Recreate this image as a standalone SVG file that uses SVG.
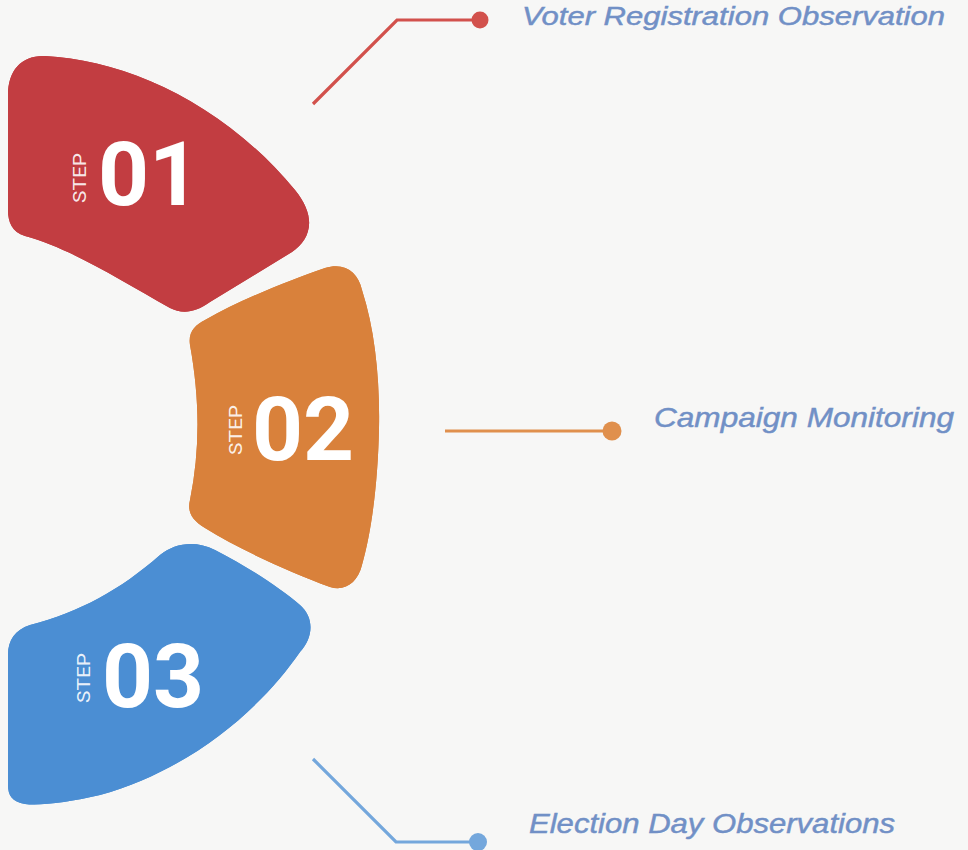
<svg xmlns="http://www.w3.org/2000/svg" xmlns:xlink="http://www.w3.org/1999/xlink" width="968" height="850" viewBox="0 0 968 850">
<defs>
<pattern id="dots" x="0" y="0" width="31" height="31" patternUnits="userSpaceOnUse">
<circle cx="15" cy="15" r="0.9" fill="#ffffff" fill-opacity="0.35"/>
</pattern>
<style>
.num{font-family:Roboto,"Liberation Sans",sans-serif;font-weight:700;font-size:89px;fill:#ffffff}
.step{font-family:Roboto,"Liberation Sans",sans-serif;font-weight:400;font-size:18px;fill:#ffffff;fill-opacity:0.9}
.lbl{font-family:"Liberation Sans",Arial,sans-serif;font-style:italic;fill:#7190C6;stroke:#7190C6;stroke-width:0.45}
.ln{fill:none;stroke-width:3.2;stroke-linejoin:miter;stroke-linecap:butt}
</style>
</defs>
<rect x="0" y="0" width="968" height="850" fill="#F7F7F6"/>

<g id="step1">
<path id="s1" d="M8,95 C8,70 22,55 45,56 C125,60 222,102 295,190 C318,218 310,240 292,252 L210,302 C195,313 182,314 170,308 C120,280 70,248 25,236 C12,232 8,222 8,210 Z" fill="#C23D41"/>
<use xlink:href="#s1" fill="url(#dots)"/>
<text class="step" transform="translate(86,203) rotate(-90)" textLength="50" lengthAdjust="spacingAndGlyphs">STEP</text>
<text class="num" x="98" y="205">01</text>
</g>

<g id="step2">
<path id="s2" d="M190,345 C188,332 195,325 205,320 C240,300 290,280 325,268 C345,262 358,272 362,290 C375,330 380,380 379,428 C378,480 372,530 362,565 C358,582 345,592 330,587 C290,572 240,550 205,528 C192,520 187,512 190,500 C200,450 200,400 190,345 Z" fill="#D9813B"/>
<use xlink:href="#s2" fill="url(#dots)"/>
<text class="step" transform="translate(242,455) rotate(-90)" textLength="50" lengthAdjust="spacingAndGlyphs">STEP</text>
<text class="num" x="252" y="460">02</text>
</g>

<g id="step3">
<path id="s3" d="M8,655 C8,640 15,630 30,625 C80,612 120,590 160,555 C175,543 195,540 215,550 C250,568 280,588 300,605 C315,618 313,638 300,652 C260,710 190,770 100,795 C70,802 40,806 25,804 C12,802 8,795 8,785 Z" fill="#4B8ED3"/>
<use xlink:href="#s3" fill="url(#dots)"/>
<text class="step" transform="translate(90,703) rotate(-90)" textLength="50" lengthAdjust="spacingAndGlyphs">STEP</text>
<text class="num" x="102" y="707">03</text>
</g>

<g id="connectors">
<polyline class="ln" points="313,104 397,20 480,20" stroke="#D2514C"/>
<circle cx="480" cy="20" r="8.5" fill="#D2514C"/>
<line class="ln" x1="445" y1="431" x2="612" y2="431" stroke="#E0904D"/>
<circle cx="612" cy="431" r="9.5" fill="#E0904D"/>
<polyline class="ln" points="313,759 396,842 478,842" stroke="#74A7DC"/>
<circle cx="478" cy="842" r="9" fill="#74A7DC"/>
</g>

<g id="labels">
<text class="lbl" x="522" y="25" font-size="25" textLength="423" lengthAdjust="spacingAndGlyphs">Voter Registration Observation</text>
<text class="lbl" x="654" y="427" font-size="28" textLength="300" lengthAdjust="spacingAndGlyphs">Campaign Monitoring</text>
<text class="lbl" x="529" y="833" font-size="27" textLength="366" lengthAdjust="spacingAndGlyphs">Election Day Observations</text>
</g>
</svg>
